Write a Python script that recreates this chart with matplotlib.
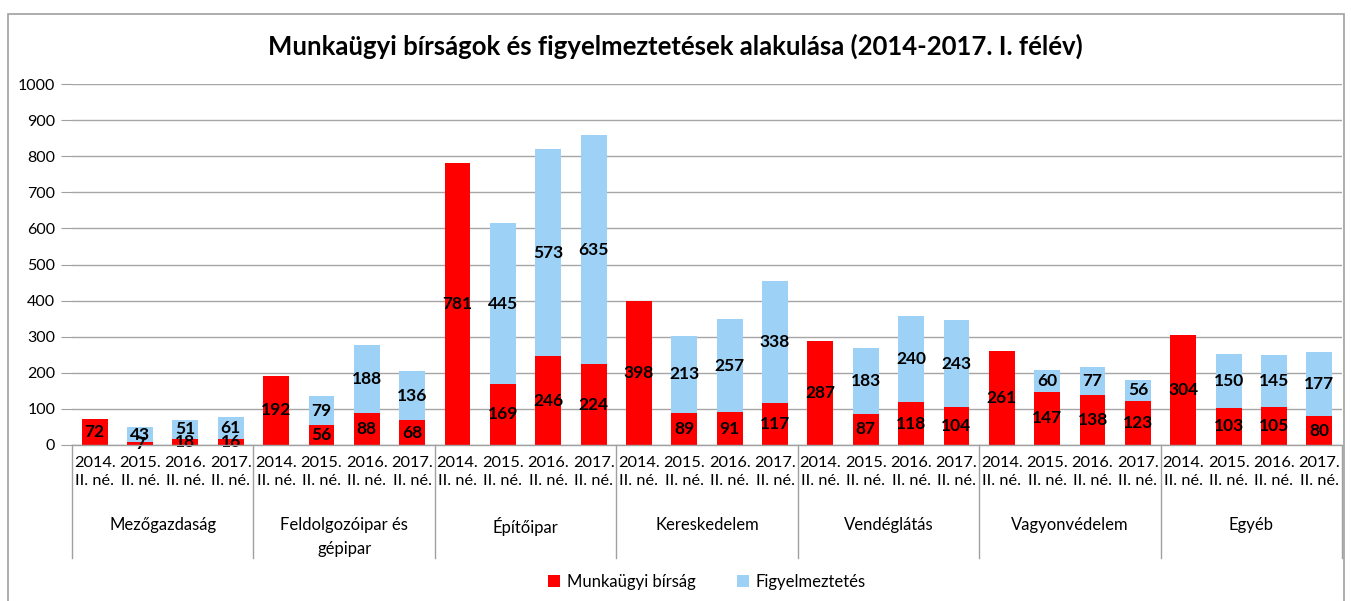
import matplotlib.pyplot as plt
from matplotlib.patches import Rectangle
from matplotlib.lines import Line2D
import numpy as np

plt.rcParams['font.family'] = ['Lato', 'DejaVu Sans']

groups = ['Mezőgazdaság', 'Feldolgozóipar és\ngépipar', 'Építőipar', 'Kereskedelem',
          'Vendéglátás', 'Vagyonvédelem', 'Egyéb']
periods = ['2014.\nII. né.', '2015.\nII. né.', '2016.\nII. né.', '2017.\nII. né.']

birsag = [72, 7, 18, 16,
          192, 56, 88, 68,
          781, 169, 246, 224,
          398, 89, 91, 117,
          287, 87, 118, 104,
          261, 147, 138, 123,
          304, 103, 105, 80]
figyelm = [0, 43, 51, 61,
           0, 79, 188, 136,
           0, 445, 573, 635,
           0, 213, 257, 338,
           0, 183, 240, 243,
           0, 60, 77, 56,
           0, 150, 145, 177]

red = '#FF0000'
blue = '#9DD1F5'

fig = plt.figure(figsize=(13.51, 6.01), dpi=100)
ax = fig.add_axes([72/1351, 1-445/601, 1270/1351, 361/601])

x = np.arange(len(birsag))
b = np.array(birsag)
f = np.array(figyelm)
w = 0.57
ax.bar(x, b, w, color=red, label='Munkaügyi bírság', zorder=3)
ax.bar(x, f, w, bottom=b, color=blue, label='Figyelmeztetés', zorder=3)

for xi, bi, fi in zip(x, b, f):
    ax.text(xi, bi/2, str(bi), ha='center', va='center', fontsize=12.5,
            fontweight='bold', zorder=4)
    if fi > 0:
        ax.text(xi, bi + fi/2, str(fi), ha='center', va='center', fontsize=12.5,
                fontweight='bold', zorder=4)

ax.set_xlim(-0.5, len(x) - 0.5)
ax.set_ylim(0, 1000)
ax.set_yticks(range(0, 1001, 100))
ax.tick_params(axis='y', length=8, color='#A0A0A0', labelsize=11.5, pad=4)
ax.yaxis.grid(True, color='#A6A6A6', lw=1, zorder=0)
for s in ax.spines.values():
    s.set_visible(False)

ax.set_xticks(x)
ax.set_xticklabels(periods * len(groups), fontsize=11.8, linespacing=1.35)
ax.tick_params(axis='x', length=0, pad=8)

# category boxes
depth = (558 - 445) / 361
ax.add_line(Line2D([-0.5, len(x) - 0.5], [0, 0], color='#A0A0A0', lw=1,
                   transform=ax.get_xaxis_transform(), clip_on=False, zorder=5))
for k in range(len(groups) + 1):
    xb = k * 4 - 0.5
    ax.add_line(Line2D([xb, xb], [0, -depth], color='#A0A0A0', lw=1,
                       transform=ax.get_xaxis_transform(), clip_on=False))
for k, g in enumerate(groups):
    ax.text(k * 4 + 1.5, -(517 - 445) / 361, g, ha='center', va='top',
            fontsize=12, linespacing=1.65, transform=ax.get_xaxis_transform())

fig.text(0.5, 1 - 46/601, 'Munkaügyi bírságok és figyelmeztetések alakulása (2014-2017. I. félév)',
         ha='center', va='center', fontsize=18.5, fontweight='bold')

ax.legend(loc='center', bbox_to_anchor=(0.5, (445 - 582) / 361 + 0), ncol=2,
          frameon=False, fontsize=12, handlelength=0.7, handleheight=0.7,
          columnspacing=2.5, handletextpad=0.4)

fig.add_artist(Rectangle((8/1351, -0.05), 1336/1351, 1.05 - 14/601,
                         transform=fig.transFigure, fill=False,
                         edgecolor='#A0A0A0', lw=1.2))

fig.savefig('out.png', dpi=100)
